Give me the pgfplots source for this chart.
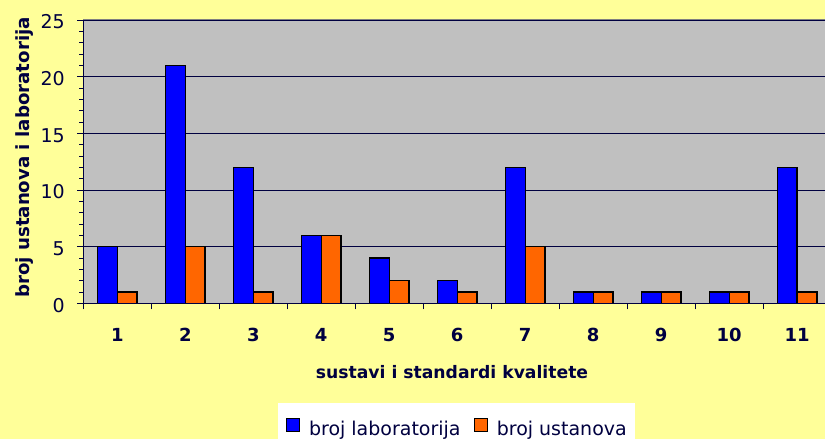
\documentclass[border=0pt]{standalone}
\usepackage{pgfplots}
\pgfplotsset{compat=1.18}
\usepackage{fontspec}
\setmainfont{DejaVu Sans}
\definecolor{bgyellow}{HTML}{FFFF99}
\definecolor{plotgray}{HTML}{C0C0C0}
\definecolor{barblue}{HTML}{0000FF}
\definecolor{barorange}{HTML}{FF6600}
\definecolor{navy}{HTML}{000040}
\definecolor{bordergray}{HTML}{808080}
\begin{document}
\begin{tikzpicture}[x=1bp,y=1bp]
\fill[bgyellow] (0,0) rectangle (825,439);
\begin{axis}[
  name=ax,
  at={(83.3bp,135.7bp)}, anchor=south west,
  scale only axis, width=741.7bp, height=283.3bp,
  xmin=0.5, xmax=11.41, ymin=0, ymax=25,
  clip=false,
  axis background/.style={fill=plotgray},
  axis line style={draw=none},
  /pgf/number format/assume math mode=true,
  ybar,
  xtick={0.5,1.5,...,10.5}, xticklabels={},
  extra x ticks={1,2,...,11},
  extra x tick labels={1,2,3,4,5,6,7,8,9,10,11},
  extra x tick style={major tick length=0pt,
    tick label style={font=\fontsize{18bp}{20bp}\selectfont\bfseries, text=navy, anchor=base, inner sep=0pt, yshift=-38.7bp}},
  ytick={0,5,...,25},
  minor y tick num=4,
  xtick pos=bottom, ytick pos=left,
  tick align=outside,
  major tick length=6bp, minor tick length=4bp,
  tick style={navy, line width=0.8bp},
  ymajorgrids, grid style={navy, line width=0.7bp},
  yticklabel style={font=\fontsize{19bp}{21bp}\selectfont, text=navy, anchor=east, inner sep=0pt, xshift=-12.3bp, yshift=-2bp},
  xlabel={sustavi i standardi kvalitete},
  xlabel style={font=\fontsize{17.2bp}{19bp}\selectfont\bfseries, text=navy, at={(axis description cs:0.4971,-0.2654)}, anchor=base, inner sep=0pt},
  ylabel={broj ustanova i laboratorija},
  ylabel style={font=\fontsize{18.2bp}{20bp}\selectfont\bfseries, text=navy, at={(axis description cs:-0.0719,0.5146)}, anchor=base, inner sep=0pt},
  legend columns=2,
  legend style={at={(axis description cs:0.7438,-0.352)}, anchor=north east, draw=none, fill=white,
    font=\fontsize{19bp}{21bp}\selectfont, text=navy,
    inner xsep=8bp, inner ysep=15bp,
    nodes={inner sep=0pt},
    /tikz/every odd column/.append style={column sep=9bp},
    /tikz/every even column/.append style={column sep=13bp}},
  legend image code/.code={\draw[#1, line width=1.2bp] (0bp,-3bp) rectangle (13bp,10bp);},
]
\addplot[draw=black, line width=1.3bp, fill=barblue, bar width=0.29, bar shift=-0.145]
  coordinates {(1,5) (2,21) (3,12) (4,6) (5,4) (6,2) (7,12) (8,1) (9,1) (10,1) (11,12)};
\addlegendentry{broj laboratorija}
\addplot[draw=black, line width=1.3bp, fill=barorange, bar width=0.29, bar shift=0.145]
  coordinates {(1,1) (2,5) (3,1) (4,6) (5,2) (6,1) (7,5) (8,1) (9,1) (10,1) (11,1)};
\addlegendentry{broj ustanova}
\end{axis}
\draw[bordergray, line width=1bp] (ax.north west) -- (ax.north east);
\draw[navy, line width=1bp] (ax.north west) -- (ax.south west) -- (ax.south east);
\pgfresetboundingbox
\useasboundingbox (0,0) rectangle (825,439);
\end{tikzpicture}
\end{document}
